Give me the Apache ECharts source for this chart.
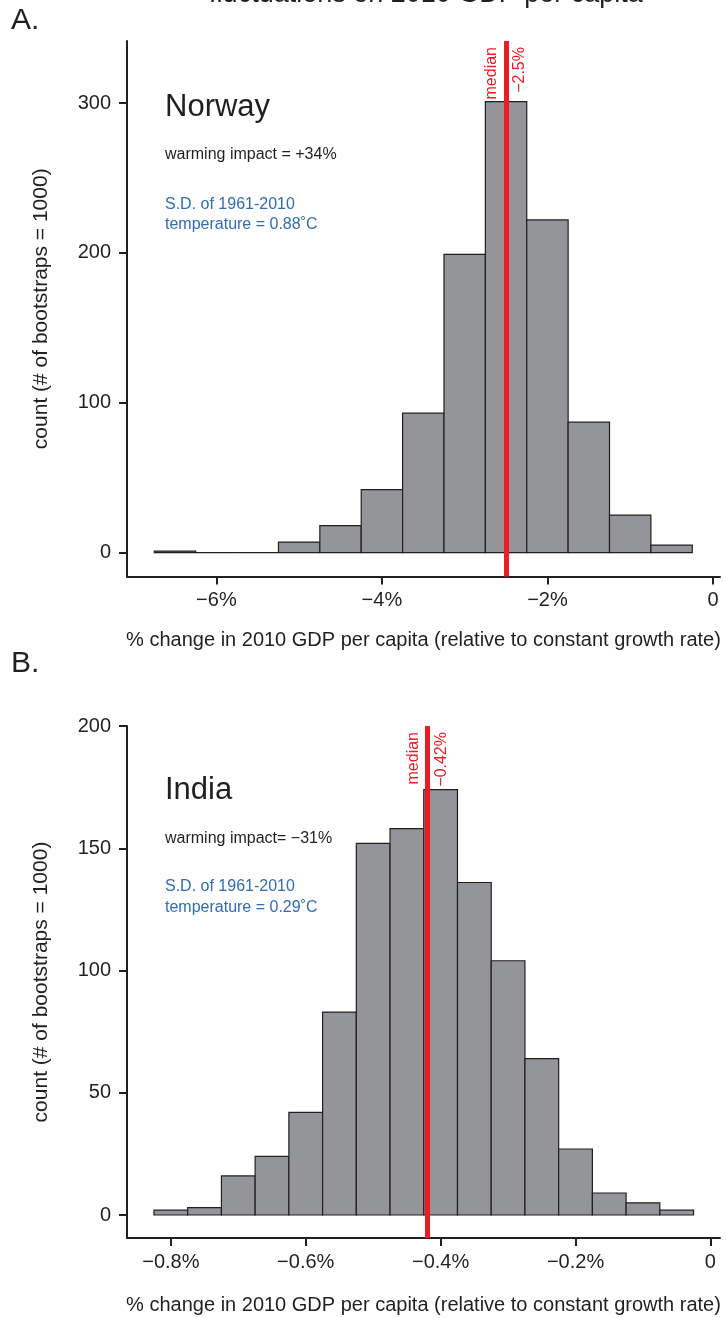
<!DOCTYPE html>
<html>
<head>
<meta charset="utf-8">
<script src="https://cdn.jsdelivr.net/npm/echarts@6/dist/echarts.min.js"></script>
<style>
  html, body { margin: 0; padding: 0; background: #fff; }
  #chart { width: 726px; height: 1318px; }
</style>
</head>
<body>
<div id="chart"></div>
<script>
// Bootstrap histograms of the effect of temperature fluctuations on 2010 GDP per capita

// Panel A: Norway (bins of 0.5 percentage points)
const norwayBinStart = -6.75;
const norwayBinWidth = 0.5;
const norwayCounts = [1, 0, 0, 7, 18, 42, 93, 199, 301, 222, 87, 25, 5];
const norwayMedian = -2.5;
const norwayMedianLabel = '\u22122.5%';
const norwayXTicks = [-6, -4, -2, 0];
const norwayXTickLabels = ['\u22126%', '\u22124%', '\u22122%', '0'];
const norwayYTicks = [0, 100, 200, 300];

// Panel B: India (bins of 0.05 percentage points)
const indiaBinStart = -0.825;
const indiaBinWidth = 0.05;
const indiaCounts = [2, 3, 16, 24, 42, 83, 152, 158, 174, 136, 104, 64, 27, 9, 5, 2];
const indiaMedian = -0.42;
const indiaMedianLabel = '\u22120.42%';
const indiaXTicks = [-0.8, -0.6, -0.4, -0.2, 0];
const indiaXTickLabels = ['\u22120.8%', '\u22120.6%', '\u22120.4%', '\u22120.2%', '0'];
const indiaYTicks = [0, 50, 100, 150, 200];

const FONT = "'Liberation Sans', Arial, Helvetica, sans-serif";
const INK = '#231f20';
const BLUE = '#2f6db5';
const RED = '#ed1c24';
const BAR = '#939598';

function binsToData(start, width, counts) {
  return counts.map((c, i) => [start + i * width, start + (i + 1) * width, c]);
}

function histRender(params, api) {
  const lo = api.value(0), hi = api.value(1), c = api.value(2);
  const p0 = api.coord([lo, c]);
  const p1 = api.coord([hi, 0]);
  return {
    type: 'rect',
    shape: { x: p0[0], y: p0[1], width: p1[0] - p0[0], height: p1[1] - p0[1] },
    style: { fill: BAR, stroke: INK, lineWidth: 1.2 }
  };
}

function tickFormatter(ticks, labels) {
  return v => {
    const i = ticks.findIndex(t => Math.abs(t - v) < 1e-9);
    return i >= 0 ? labels[i] : '';
  };
}

function xAxisCfg(gridIndex, min, max, ticks, labels, gap) {
  return {
    type: 'value', gridIndex, min, max,
    name: '% change in 2010 GDP per capita (relative to constant growth rate)',
    nameLocation: 'middle', nameGap: gap,
    nameTextStyle: { fontFamily: FONT, fontSize: 20, color: INK },
    axisLine: { show: true, onZero: false, lineStyle: { color: INK, width: 2 } },
    axisTick: { show: true, length: 8, customValues: ticks, lineStyle: { color: INK, width: 2 } },
    axisLabel: { customValues: ticks, formatter: tickFormatter(ticks, labels), margin: 14,
                 fontFamily: FONT, fontSize: 20, color: INK },
    splitLine: { show: false }
  };
}

function yAxisCfg(gridIndex, min, max, ticks) {
  return {
    type: 'value', gridIndex, min, max,
    name: 'count (# of bootstraps = 1000)',
    nameLocation: 'middle', nameGap: 75, nameRotate: 90,
    nameTextStyle: { fontFamily: FONT, fontSize: 21, color: INK },
    axisLine: { show: true, onZero: false, lineStyle: { color: INK, width: 2 } },
    axisTick: { show: true, length: 8, customValues: ticks, lineStyle: { color: INK, width: 2 } },
    axisLabel: { customValues: ticks, margin: 16, fontFamily: FONT, fontSize: 20, color: INK },
    splitLine: { show: false }
  };
}

function medianSeries(xAxisIndex, yAxisIndex, value, valueLabel) {
  const lbl = { show: true, color: RED, fontFamily: FONT, fontSize: 16, distance: 6 };
  return {
    type: 'line', xAxisIndex, yAxisIndex, data: [],
    markLine: {
      silent: true, symbol: 'none', animation: false,
      lineStyle: { color: RED, width: 5, type: 'solid' },
      data: [
        { xAxis: value, label: Object.assign({}, lbl, { formatter: 'median', position: 'insideEndTop' }) },
        { xAxis: value, lineStyle: { color: 'rgba(0,0,0,0)', width: 0 },
          label: Object.assign({}, lbl, { formatter: valueLabel, position: 'insideEndBottom' }) }
      ]
    }
  };
}

function txt(x, y, text, size, color) {
  return { type: 'text', x, y, silent: true,
           style: { text, font: size + 'px ' + FONT, fill: color, verticalAlign: 'middle', align: 'left' } };
}

const chart = echarts.init(document.getElementById('chart'), null, { renderer: 'canvas' });
chart.setOption({
  animation: false,
  backgroundColor: '#fff',
  grid: [
    { left: 127, top: 41, width: 593, height: 535.5 },
    { left: 127, top: 726, width: 593, height: 512 }
  ],
  xAxis: [
    xAxisCfg(0, -7.08, 0.085, norwayXTicks, norwayXTickLabels, 54),
    xAxisCfg(1, -0.865, 0.0142, indiaXTicks, indiaXTickLabels, 57)
  ],
  yAxis: [
    yAxisCfg(0, -16, 341.4, norwayYTicks),
    yAxisCfg(1, -9.4, 200, indiaYTicks)
  ],
  series: [
    { type: 'custom', xAxisIndex: 0, yAxisIndex: 0, renderItem: histRender,
      encode: { x: [0, 1], y: 2 }, data: binsToData(norwayBinStart, norwayBinWidth, norwayCounts) },
    medianSeries(0, 0, norwayMedian, norwayMedianLabel),
    { type: 'custom', xAxisIndex: 1, yAxisIndex: 1, renderItem: histRender,
      encode: { x: [0, 1], y: 2 }, data: binsToData(indiaBinStart, indiaBinWidth, indiaCounts) },
    medianSeries(1, 1, indiaMedian, indiaMedianLabel)
  ],
  graphic: [
    { type: 'text', x: 426, y: 8, silent: true,
      style: { text: 'fluctuations on 2010 GDP per capita', font: '27px ' + FONT, fill: INK,
               align: 'center', verticalAlign: 'bottom' } },
    txt(11, 21, 'A.', 30, INK),
    txt(165, 107, 'Norway', 31, INK),
    txt(165, 155, 'warming impact = +34%', 16, INK),
    txt(165, 205, 'S.D. of 1961-2010', 16, BLUE),
    txt(165, 225, 'temperature = 0.88\u02daC', 16, BLUE),
    txt(11, 664, 'B.', 30, INK),
    txt(165, 790, 'India', 31, INK),
    txt(165, 839, 'warming impact= \u221231%', 16, INK),
    txt(165, 887, 'S.D. of 1961-2010', 16, BLUE),
    txt(165, 908, 'temperature = 0.29\u02daC', 16, BLUE)
  ]
});
</script>
</body>
</html>
